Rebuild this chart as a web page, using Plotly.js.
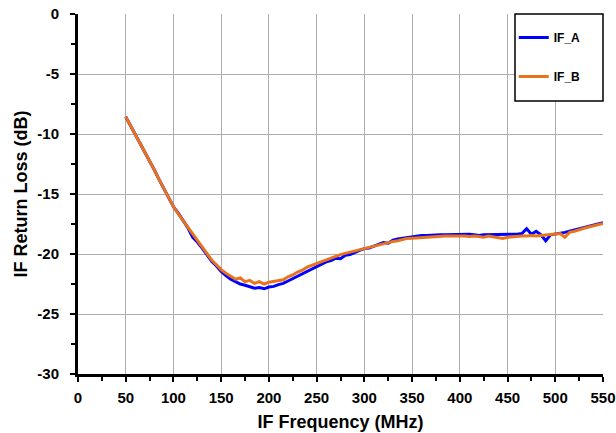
<!DOCTYPE html>
<html><head><meta charset="utf-8">
<script src="https://cdn.plot.ly/plotly-3.0.1.min.js"></script>
<style>html,body{margin:0;padding:0;background:#fff}#chart{width:616px;height:433px}</style>
</head><body><div id="chart"></div>
<script>
const freq = [50,55,60,65,70,75,80,85,90,95,100,105,110,115,120,125,130,135,140,145,150,155,160,165,170,175,180,185,190,195,200,205,210,215,220,225,230,235,240,245,250,255,260,265,270,275,280,285,290,295,300,305,310,315,320,325,330,335,340,345,350,355,360,365,370,375,380,385,390,395,400,405,410,415,420,425,430,435,440,445,450,455,460,465,470,475,480,485,490,495,500,505,510,515,520,525,530,535,540,545,550];

const ifA = [-8.56,-9.3,-9.95,-10.7,-11.45,-12.2,-13.0,-13.8,-14.55,-15.3,-16.05,-16.6,-17.2,-17.8,-18.6,-19.0,-19.5,-20.05,-20.6,-21.0,-21.45,-21.8,-22.1,-22.3,-22.5,-22.6,-22.7,-22.85,-22.8,-22.9,-22.75,-22.7,-22.55,-22.45,-22.25,-22.05,-21.85,-21.6,-21.4,-21.2,-21.0,-20.85,-20.65,-20.55,-20.35,-20.4,-20.1,-20.05,-19.85,-19.7,-19.55,-19.5,-19.35,-19.2,-19.05,-19.1,-18.85,-18.75,-18.68,-18.6,-18.55,-18.5,-18.45,-18.45,-18.42,-18.42,-18.4,-18.4,-18.38,-18.4,-18.4,-18.38,-18.35,-18.4,-18.45,-18.4,-18.4,-18.38,-18.35,-18.4,-18.38,-18.4,-18.35,-18.3,-17.9,-18.35,-18.1,-18.4,-18.9,-18.4,-18.35,-18.25,-18.2,-18.1,-18.0,-17.9,-17.8,-17.7,-17.6,-17.5,-17.4];

const ifB = [-8.56,-9.3,-9.95,-10.7,-11.45,-12.2,-13.0,-13.8,-14.55,-15.3,-16.05,-16.65,-17.2,-17.8,-18.35,-18.9,-19.4,-20.0,-20.5,-20.9,-21.3,-21.6,-21.85,-22.1,-22.0,-22.3,-22.2,-22.45,-22.3,-22.5,-22.35,-22.3,-22.2,-22.15,-21.9,-21.75,-21.5,-21.35,-21.1,-20.95,-20.75,-20.6,-20.45,-20.3,-20.15,-20.05,-19.95,-19.85,-19.7,-19.6,-19.5,-19.4,-19.3,-19.2,-19.1,-19.0,-18.95,-18.9,-18.8,-18.7,-18.68,-18.65,-18.6,-18.58,-18.55,-18.55,-18.53,-18.5,-18.5,-18.48,-18.47,-18.5,-18.55,-18.5,-18.55,-18.6,-18.5,-18.55,-18.6,-18.7,-18.6,-18.55,-18.55,-18.5,-18.5,-18.45,-18.5,-18.45,-18.4,-18.35,-18.35,-18.3,-18.6,-18.2,-18.1,-17.95,-17.85,-17.75,-17.65,-17.55,-17.45];

const xTicks = [0,50,100,150,200,250,300,350,400,450,500,550];
const yTicks = [0,-5,-10,-15,-20,-25,-30];

const FONT = 'Liberation Sans, Arial, sans-serif';

const traces = [
  {x: freq, y: ifA, name: 'IF_A', type: 'scatter', mode: 'lines', legendgroup: 'a',
   line: {color: '#0000FF', width: 3}},
  {x: freq, y: ifB, name: 'IF_B', type: 'scatter', mode: 'lines', legendgroup: 'b',
   line: {color: '#E8731C', width: 3}}
];

const layout = {
  width: 616, height: 433,
  margin: {l: 78, r: 13, t: 14, b: 59, pad: 0},
  paper_bgcolor: '#fff', plot_bgcolor: '#fff',
  font: {family: FONT, color: '#000'},
  showlegend: true,
  legend: {x: 0.83, xanchor: 'left', y: 0.975, yanchor: 'top', bgcolor: 'rgba(0,0,0,0)',
    borderwidth: 0, tracegroupgap: 20,
    font: {family: FONT, size: 12, weight: 'bold', color: '#000'}},
  shapes: [
    {type: 'rect', xref: 'paper', yref: 'paper', x0: 0.8324, x1: 1, y0: 0.7583, y1: 1,
     line: {color: '#000', width: 1.5}, fillcolor: '#fff', layer: 'above'}
  ],
  xaxis: {range: [0, 550], tickvals: xTicks, ticktext: xTicks.map(String),
    showgrid: true, gridcolor: '#ADADAD', gridwidth: 1, zeroline: false,
    showline: true, linecolor: '#000', linewidth: 3,
    ticks: 'outside', ticklen: 5, tickwidth: 2, tickcolor: '#000',
    minor: {dtick: 25, tick0: 0, ticks: 'outside', ticklen: 4, tickwidth: 2, tickcolor: '#000', showgrid: false},
    tickfont: {family: FONT, size: 15, weight: 'bold'}, ticklabelstandoff: 3,
    title: {text: 'IF Frequency (MHz)', font: {family: FONT, size: 18, weight: 'bold'}, standoff: 11}},
  yaxis: {range: [-30, 0], tickvals: yTicks, ticktext: yTicks.map(String),
    showgrid: true, gridcolor: '#ADADAD', gridwidth: 1, zeroline: false,
    showline: true, linecolor: '#000', linewidth: 3,
    ticks: 'outside', ticklen: 5, tickwidth: 2, tickcolor: '#000',
    minor: {dtick: 2.5, tick0: 0, ticks: 'outside', ticklen: 4, tickwidth: 2, tickcolor: '#000', showgrid: false},
    tickfont: {family: FONT, size: 15, weight: 'bold'}, ticklabelstandoff: 8,
    title: {text: 'IF Return Loss (dB)', font: {family: FONT, size: 18, weight: 'bold'}, standoff: 6}},
  xaxis2: {overlaying: 'x', matches: 'x', anchor: 'y2', side: 'bottom', showgrid: false, zeroline: false,
    showticklabels: false, tickvals: xTicks, ticks: 'inside', ticklen: 5, tickwidth: 2, tickcolor: '#000',
    minor: {dtick: 25, tick0: 0, ticks: 'inside', ticklen: 4, tickwidth: 2, tickcolor: '#000', showgrid: false}},
  yaxis2: {overlaying: 'y', matches: 'y', anchor: 'x2', side: 'left', showgrid: false, zeroline: false,
    showticklabels: false, tickvals: yTicks, ticks: 'inside', ticklen: 5, tickwidth: 2, tickcolor: '#000',
    minor: {dtick: 2.5, tick0: 0, ticks: 'inside', ticklen: 4, tickwidth: 2, tickcolor: '#000', showgrid: false}}
};

Plotly.newPlot('chart', traces, layout, {displayModeBar: false, staticPlot: true});
</script></body></html>
